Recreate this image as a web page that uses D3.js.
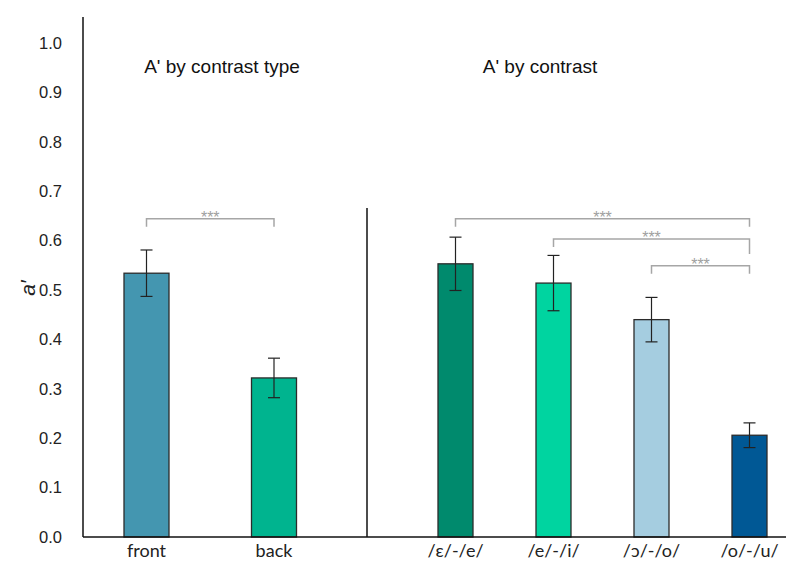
<!DOCTYPE html>
<html>
<head>
<meta charset="utf-8">
<script src="https://cdn.jsdelivr.net/npm/d3@7"></script>
<style>
  body { margin: 0; background: #fff; }
</style>
</head>
<body>
<script>
var w = 795;
var h = 561;

// data
var typeCategories = ["front", "back"];
var typeValues = [0.534, 0.322];
var typeErrors = [0.047, 0.040];
var typeColors = ["#4496b0", "#00b48f"];

var contrastCategories = ["/ɛ/-/e/", "/e/-/i/", "/ɔ/-/o/", "/o/-/u/"];
var contrastValues = [0.553, 0.514, 0.440, 0.206];
var contrastErrors = [0.054, 0.056, 0.045, 0.025];
var contrastColors = ["#008a6d", "#00d4a0", "#a5cde0", "#005895"];

var yTicks = [0, 0.1, 0.2, 0.3, 0.4, 0.5, 0.6, 0.7, 0.8, 0.9, 1.0];

// significance brackets: [from index, to index, level]
var typeBrackets = [[0, 1, 0.644]];
var contrastBrackets = [[0, 3, 0.644], [1, 3, 0.603], [2, 3, 0.549]];

var x0 = 83, baseY = 537, topY = 43;

var y = d3.scaleLinear().domain([0, 1]).range([baseY, topY]);
var xType = d3.scalePoint().domain(typeCategories).range([146.5, 274]);
var xContrast = d3.scalePoint().domain(contrastCategories).range([455.5, 749.5]);

var svg = d3.select("body").append("svg")
    .attr("width", w)
    .attr("height", h);

// y axis
var yAxis = d3.axisLeft(y).tickValues(yTicks).tickFormat(d3.format(".1f")).tickSize(0).tickPadding(21);
var yg = svg.append("g").attr("transform", "translate(" + x0 + ",0)").call(yAxis);
yg.select(".domain").remove();
yg.selectAll("text")
    .attr("font-family", "Liberation Sans, Arial, sans-serif")
    .attr("font-size", 16.5)
    .attr("fill", "#222");

svg.append("line")
    .attr("x1", x0).attr("x2", x0)
    .attr("y1", 17).attr("y2", baseY)
    .attr("stroke", "#111").attr("stroke-width", 1.5);

svg.append("text")
    .attr("transform", "translate(35,288) rotate(-90)")
    .attr("text-anchor", "middle")
    .attr("font-family", "Liberation Sans, Arial, sans-serif")
    .attr("font-style", "italic")
    .attr("font-size", 21)
    .attr("fill", "#222")
    .text("a′");

// divider
svg.append("line")
    .attr("x1", 367).attr("x2", 367)
    .attr("y1", 208).attr("y2", baseY)
    .attr("stroke", "#111").attr("stroke-width", 1.5);

// titles
svg.append("text")
    .attr("x", 222).attr("y", 73)
    .attr("text-anchor", "middle")
    .attr("font-family", "Liberation Sans, Arial, sans-serif")
    .attr("font-size", 19)
    .attr("fill", "#111")
    .text("A' by contrast type");

svg.append("text")
    .attr("x", 540).attr("y", 73)
    .attr("text-anchor", "middle")
    .attr("font-family", "Liberation Sans, Arial, sans-serif")
    .attr("font-size", 19)
    .attr("fill", "#111")
    .text("A' by contrast");

function drawPanel(xs, cats, vals, errs, cols, barW, brackets) {
    var g = svg.append("g");

    g.selectAll("rect")
        .data(cats)
        .enter()
        .append("rect")
        .attr("x", function(d) { return xs(d) - barW / 2; })
        .attr("y", function(d, i) { return y(vals[i]); })
        .attr("width", barW)
        .attr("height", function(d, i) { return baseY - y(vals[i]); })
        .attr("fill", function(d, i) { return cols[i]; })
        .attr("stroke", "#2b2b2b")
        .attr("stroke-width", 1.3);

    var eb = g.selectAll("g.err")
        .data(cats)
        .enter()
        .append("g")
        .attr("class", "err")
        .attr("stroke", "#222")
        .attr("stroke-width", 1.2);

    eb.append("line")
        .attr("x1", function(d) { return xs(d); })
        .attr("x2", function(d) { return xs(d); })
        .attr("y1", function(d, i) { return y(vals[i] + errs[i]); })
        .attr("y2", function(d, i) { return y(vals[i] - errs[i]); });
    [1, -1].forEach(function(s) {
        eb.append("line")
            .attr("x1", function(d) { return xs(d) - 6; })
            .attr("x2", function(d) { return xs(d) + 6; })
            .attr("y1", function(d, i) { return y(vals[i] + s * errs[i]); })
            .attr("y2", function(d, i) { return y(vals[i] + s * errs[i]); });
    });

    // x labels
    g.selectAll("text.xl")
        .data(cats)
        .enter()
        .append("text")
        .attr("class", "xl")
        .attr("x", function(d) { return xs(d); })
        .attr("y", 557)
        .attr("text-anchor", "middle")
        .attr("font-family", "Lato, 'Open Sans', sans-serif")
        .attr("font-size", 18)
        .attr("fill", "#222")
        .text(function(d) { return d; });

    // brackets
    brackets.forEach(function(b, k) {
        var xa = xs(cats[b[0]]), xb = xs(cats[b[1]]), yy = y(b[2]);
        var rightLeg = (k === 1 && brackets.length > 1) ? 15 : 8;
        svg.append("path")
            .attr("d", "M" + xa + "," + (yy + 8) + "V" + yy + "H" + xb + "V" + (yy + rightLeg))
            .attr("fill", "none")
            .attr("stroke", "#a6a6a6")
            .attr("stroke-width", 1.5);
        svg.append("text")
            .attr("x", (xa + xb) / 2)
            .attr("y", yy + 4)
            .attr("text-anchor", "middle")
            .attr("font-family", "Liberation Sans, Arial, sans-serif")
            .attr("font-size", 16)
            .attr("fill", "#a0a0a0")
            .text("***");
    });
}

drawPanel(xType, typeCategories, typeValues, typeErrors, typeColors, 45, typeBrackets);
drawPanel(xContrast, contrastCategories, contrastValues, contrastErrors, contrastColors, 35, contrastBrackets);

// x axis line
svg.append("line")
    .attr("x1", x0).attr("x2", 786)
    .attr("y1", baseY).attr("y2", baseY)
    .attr("stroke", "#111").attr("stroke-width", 1.5);
</script>
</body>
</html>
